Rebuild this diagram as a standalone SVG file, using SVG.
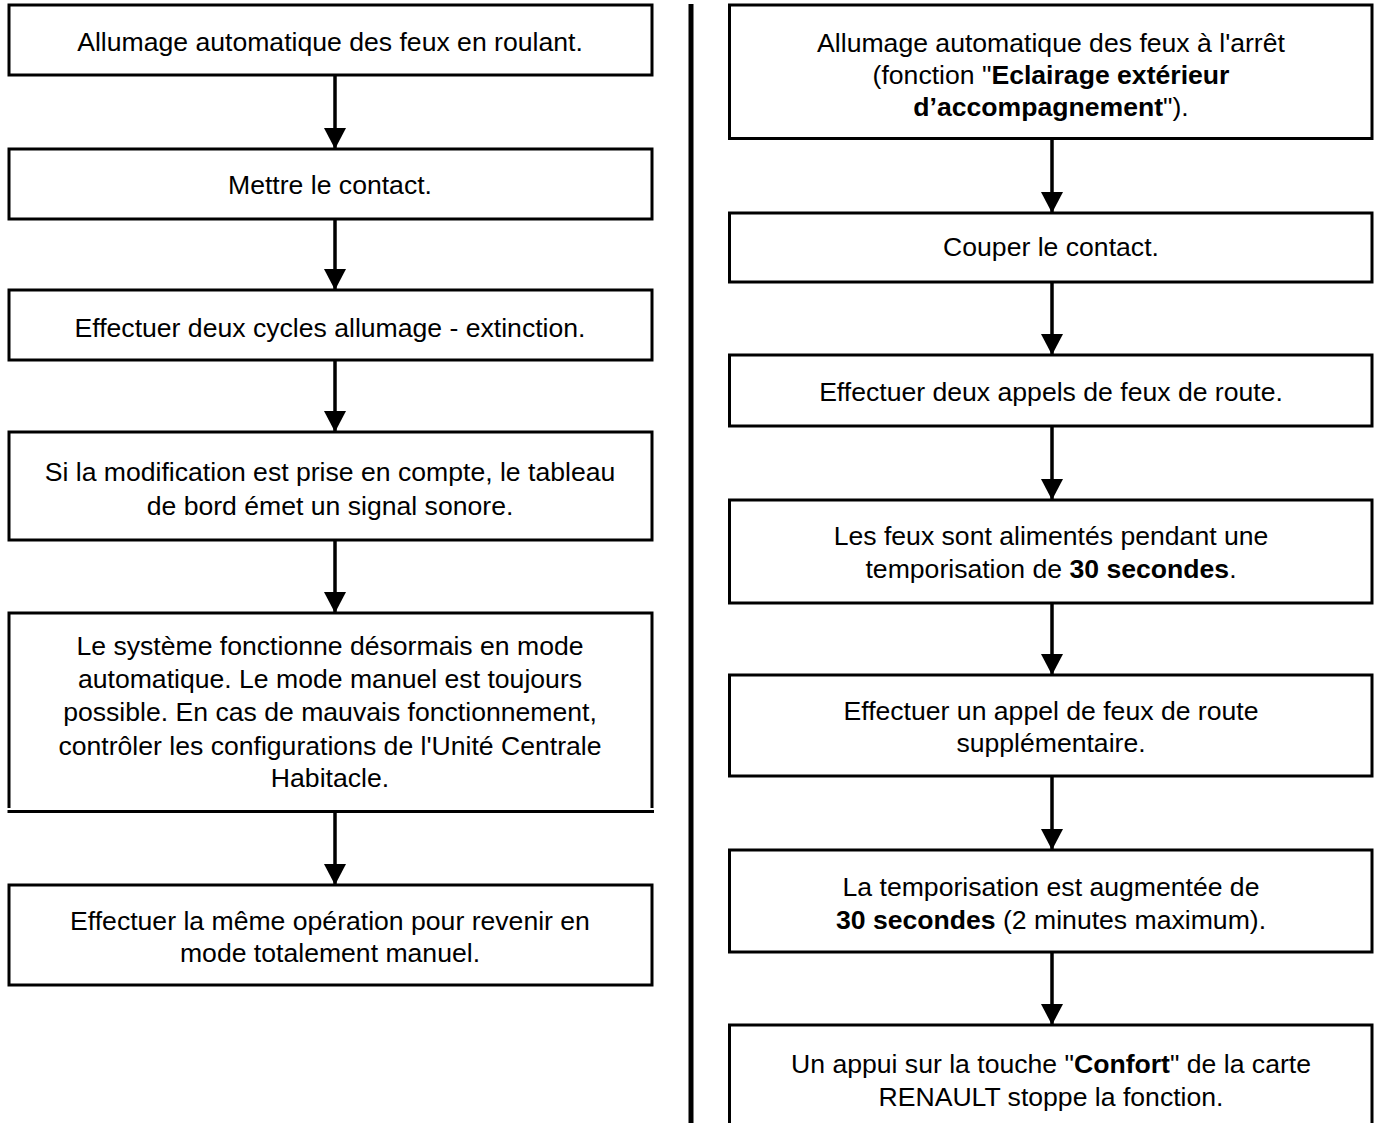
<svg xmlns="http://www.w3.org/2000/svg" width="1378" height="1123" viewBox="0 0 1378 1123">
<defs>
<style>
.box{fill:#fff;stroke:#000;stroke-width:3}
.edge{fill:none;stroke:#000;stroke-width:3}
.t{font-family:"Liberation Sans",Arial,sans-serif;font-size:26.6px;fill:#000;text-anchor:middle}
.b{font-weight:bold}
.con{stroke:#000;stroke-width:3.5;fill:none}
</style>
<marker id="ah" markerUnits="userSpaceOnUse" markerWidth="21" markerHeight="22" refX="21" refY="11" orient="auto" viewBox="0 0 21 22">
<path d="M0,0 L21,11 L0,22 Z" fill="#000"/>
</marker>
</defs>
<rect width="1378" height="1123" fill="#fff"/>
<g id="divider"><line x1="691" y1="4" x2="691" y2="1123" stroke="#000" stroke-width="5"/></g>

<g id="connectors">
<line class="con" x1="335" y1="75" x2="335" y2="149" marker-end="url(#ah)"/>
<line class="con" x1="335" y1="219" x2="335" y2="290" marker-end="url(#ah)"/>
<line class="con" x1="335" y1="360" x2="335" y2="432" marker-end="url(#ah)"/>
<line class="con" x1="335" y1="540" x2="335" y2="613" marker-end="url(#ah)"/>
<line class="con" x1="335" y1="813" x2="335" y2="885" marker-end="url(#ah)"/>
<line class="con" x1="1052" y1="138" x2="1052" y2="213" marker-end="url(#ah)"/>
<line class="con" x1="1052" y1="282" x2="1052" y2="355" marker-end="url(#ah)"/>
<line class="con" x1="1052" y1="426" x2="1052" y2="500" marker-end="url(#ah)"/>
<line class="con" x1="1052" y1="603" x2="1052" y2="675" marker-end="url(#ah)"/>
<line class="con" x1="1052" y1="776" x2="1052" y2="850" marker-end="url(#ah)"/>
<line class="con" x1="1052" y1="952" x2="1052" y2="1025" marker-end="url(#ah)"/>
</g>

<g id="L1"><rect class="box" x="9" y="5" width="643" height="70"/>
<text class="t" x="330" y="51">Allumage automatique des feux en roulant.</text></g>
<g id="L2"><rect class="box" x="9" y="149" width="643" height="70"/>
<text class="t" x="330" y="194">Mettre le contact.</text></g>
<g id="L3"><rect class="box" x="9" y="290" width="643" height="70"/>
<text class="t" x="330" y="337">Effectuer deux cycles allumage - extinction.</text></g>
<g id="L4"><rect class="box" x="9" y="432" width="643" height="108"/>
<text class="t" x="330" y="481">Si la modification est prise en compte, le tableau</text>
<text class="t" x="330" y="515">de bord émet un signal sonore.</text></g>
<g id="L5"><path class="edge" d="M9,808 V613 H652 V808"/><path class="edge" d="M7.5,811.5 H654"/>
<text class="t" x="330" y="655">Le système fonctionne désormais en mode</text>
<text class="t" x="330" y="688">automatique. Le mode manuel est toujours</text>
<text class="t" x="330" y="721">possible. En cas de mauvais fonctionnement,</text>
<text class="t" x="330" y="755">contrôler les configurations de l'Unité Centrale</text>
<text class="t" x="330" y="787">Habitacle.</text></g>
<g id="L6"><rect class="box" x="9" y="885" width="643" height="100"/>
<text class="t" x="330" y="930">Effectuer la même opération pour revenir en</text>
<text class="t" x="330" y="962">mode totalement manuel.</text></g>

<g id="R1"><rect class="box" x="729.5" y="5" width="642.5" height="133.5"/>
<text class="t" x="1051" y="52">Allumage automatique des feux à l'arrêt</text>
<text class="t" x="1051" y="84">(fonction "<tspan class="b">Eclairage extérieur</tspan></text>
<text class="t" x="1051" y="116"><tspan class="b">d’accompagnement</tspan>").</text></g>
<g id="R2"><rect class="box" x="729.5" y="213" width="642.5" height="69"/>
<text class="t" x="1051" y="256">Couper le contact.</text></g>
<g id="R3"><rect class="box" x="729.5" y="355" width="642.5" height="71"/>
<text class="t" x="1051" y="401">Effectuer deux appels de feux de route.</text></g>
<g id="R4"><rect class="box" x="729.5" y="500" width="642.5" height="103"/>
<text class="t" x="1051" y="545">Les feux sont alimentés pendant une</text>
<text class="t" x="1051" y="578">temporisation de <tspan class="b">30 secondes</tspan>.</text></g>
<g id="R5"><rect class="box" x="729.5" y="675" width="642.5" height="101"/>
<text class="t" x="1051" y="720">Effectuer un appel de feux de route</text>
<text class="t" x="1051" y="752">supplémentaire.</text></g>
<g id="R6"><rect class="box" x="729.5" y="850" width="642.5" height="102"/>
<text class="t" x="1051" y="896">La temporisation est augmentée de</text>
<text class="t" x="1051" y="929"><tspan class="b">30 secondes</tspan> (2 minutes maximum).</text></g>
<g id="R7"><path class="edge" d="M729.5,1123 V1025 H1372 V1123"/>
<text class="t" x="1051" y="1073">Un appui sur la touche "<tspan class="b">Confort</tspan>" de la carte</text>
<text class="t" x="1051" y="1106">RENAULT stoppe la fonction.</text></g>
</svg>
